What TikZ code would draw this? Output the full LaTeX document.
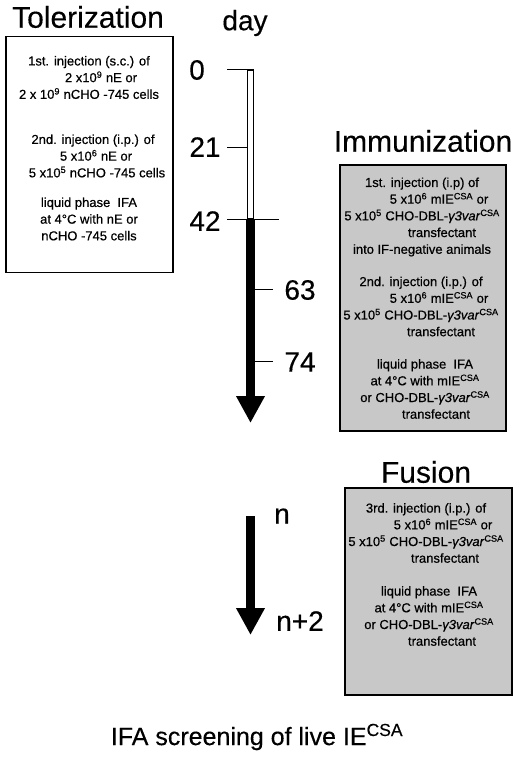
\documentclass[tikz,border=0pt]{standalone}
\usepackage{fontspec}
\setmainfont{Liberation Sans}
\newfontfamily\boxfont[FakeBold=0.6]{Liberation Sans}
\newfontfamily\bigfont[FakeBold=0.3]{Liberation Sans}
\usetikzlibrary{arrows.meta,positioning}
\definecolor{boxGray}{RGB}{200,200,200}
\newcommand{\csa}{\textsuperscript{CSA}}
\newcommand{\gvar}{\textit{γ3var}\csa}
\tikzset{
  titletxt/.style={font=\bigfont\fontsize{30}{32}\selectfont, inner sep=0pt},
  daytxt/.style={font=\bigfont\fontsize{28}{30}\selectfont, inner sep=0pt},
  boxtxt/.style={align=center, inner sep=0pt, font=\boxfont\fontsize{13}{16.7}\selectfont},
  stagebox/.style={rectangle, draw=black, line width=1.3pt, inner sep=0pt},
  graybox/.style={stagebox, fill=boxGray},
  tickline/.style={line width=1pt},
  timeline/.style={line width=9pt, -{Triangle[length=27pt,width=27pt]}}
}
\begin{document}
\begin{tikzpicture}[x=1pt,y=-1pt]
  \useasboundingbox (0,0) rectangle (520,762);

  % titles
  \node[titletxt] (toltitle) at (88,17) {Tolerization};
  \node[titletxt] (immtitle) at (423,141) {Immunization};
  \node[titletxt] (fustitle) at (426,472) {Fusion};
  \node[font=\bigfont\fontsize{25}{28}\selectfont, inner sep=0pt] (screen) at (257,737)
      {IFA screening of live IE\csa};

  % stage boxes
  \node[stagebox, minimum width=167pt, minimum height=236pt] (tolbox) at (89.5,154.5) {};
  \node[graybox, minimum width=166pt, minimum height=266pt] (immbox) at (423,298) {};
  \node[graybox, minimum width=167pt, minimum height=207pt] (fusbox) at (428.5,591.5) {};

  % tolerization text
  \node[boxtxt] (tol1) at (89,77.5) {1st. injection (s.c.) of\\
      \hspace*{24pt}2 x10\textsuperscript{9} nE or\\
      2 x 10\textsuperscript{9} nCHO -745 cells};
  \node[boxtxt] (tol2) at (93,156) {2nd. injection (i.p.) of\\
      \hspace*{6pt}5 x10\textsuperscript{6} nE or\\
      \hspace*{8pt}5 x10\textsuperscript{5} nCHO -745 cells};
  \node[boxtxt] (tol3) at (89,219) {liquid phase\ \ IFA\\
      at 4°C with nE or\\ nCHO -745 cells};

  % immunization text
  \node[boxtxt] (imm1) at (422,217) {1st. injection (i.p) of\\
      \hspace*{34pt}5 x10\textsuperscript{6} mIE\csa{} or\\
      5 x10\textsuperscript{5} CHO-DBL-\gvar\\
      \hspace*{40pt}transfectant\\ into IF-negative animals};
  \node[boxtxt] (imm2) at (421,306.5) {2nd. injection (i.p.) of\\
      \hspace*{36pt}5 x10\textsuperscript{6} mIE\csa{} or\\
      5 x10\textsuperscript{5} CHO-DBL-\gvar\\
      \hspace*{40pt}transfectant};
  \node[boxtxt] (imm3) at (425,389) {liquid phase\ \ IFA\\
      at 4°C with mIE\csa\\ or CHO-DBL-\gvar\\
      \hspace*{22pt}transfectant};

  % fusion text
  \node[boxtxt] (fus1) at (426,533) {3rd. injection (i.p.) of\\
      \hspace*{34pt}5 x10\textsuperscript{6} mIE\csa{} or\\
      5 x10\textsuperscript{5} CHO-DBL-\gvar\\
      \hspace*{38pt}transfectant};
  \node[boxtxt] (fus2) at (429,616) {liquid phase\ \ IFA\\
      at 4°C with mIE\csa\\ or CHO-DBL-\gvar\\
      \hspace*{26pt}transfectant};

  % time axis
  \node[daytxt] (day) at (245,23) {day};
  \coordinate (d0) at (250.5,70);
  \coordinate (d42) at (250.5,219);
  \coordinate (dend) at (250.5,423);
  \draw[line width=1.2pt, fill=white] (247.5,70) rectangle (253.5,219);
  \draw[timeline] (d42) -- (dend);

  \node[daytxt] (l0) at (197,70) {0};
  \node[daytxt] (l21) at (205,147) {21};
  \node[daytxt] (l42) at (205,221) {42};
  \node[daytxt] (l63) at (300,290) {63};
  \node[daytxt] (l74) at (300,362) {74};
  \draw[tickline] (227,70) -- (248,70);
  \draw[tickline] (227,148) -- (247,148);
  \draw[tickline] (227,219) -- (279,219);
  \draw[tickline] (255,289) -- (273,289);
  \draw[tickline] (255,361) -- (273,361);

  % fusion days
  \coordinate (fn) at (250.5,516);
  \coordinate (fend) at (250.5,635);
  \draw[timeline] (fn) -- (fend);
  \node[daytxt] (ln) at (282,516) {n};
  \node[daytxt] (ln2) at (300,621) {n+2};
\end{tikzpicture}
\end{document}
